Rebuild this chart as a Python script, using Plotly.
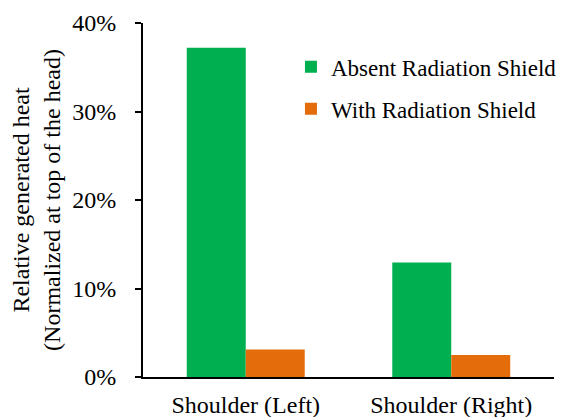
import plotly.graph_objects as go

categories = ["Shoulder (Left)", "Shoulder (Right)"]
absent_shield = [0.372, 0.1295]
with_shield = [0.031, 0.025]
series_names = ["Absent Radiation Shield", "With Radiation Shield"]

FONT = "Times New Roman, Liberation Serif, serif"
FS = 24

fig = go.Figure()
fig.add_trace(go.Bar(x=categories, y=absent_shield, name=series_names[0],
                     legendgroup="a",
                     marker=dict(color="#00B050", line=dict(width=0))))
fig.add_trace(go.Bar(x=categories, y=with_shield, name=series_names[1],
                     legendgroup="b",
                     marker=dict(color="#E46C0A", line=dict(width=0))))

fig.update_layout(
    width=569, height=417,
    margin=dict(l=135, r=23, t=15, b=48, autoexpand=False),
    paper_bgcolor="white", plot_bgcolor="white",
    barmode="group", bargap=0.426, bargroupgap=0,
    font=dict(family=FONT, size=FS, color="black"),
    showlegend=True,
    legend=dict(x=0.360, y=0.937, xanchor="left", yanchor="top",
                bgcolor="rgba(0,0,0,0)", font=dict(family=FONT, size=23),
                traceorder="grouped", tracegroupgap=9),
    xaxis=dict(showline=True, linecolor="black", linewidth=2, automargin=False,
               ticks="", showgrid=False, tickfont=dict(family=FONT, size=FS),
               ticklabelstandoff=5),
    yaxis=dict(range=[0, 0.4], dtick=0.1, tickformat=".0%", automargin=False,
               showline=True, linecolor="black", linewidth=2,
               ticks="outside", ticklen=6, tickwidth=1.5, tickcolor="black",
               ticklabelstandoff=14,
               showgrid=False, zeroline=False,
               tickfont=dict(family=FONT, size=FS),
               title=dict(text="Relative generated heat<br>(Normalized at top of the head)",
                          font=dict(family=FONT, size=FS), standoff=7)),
)

fig.write_html("out.html")
